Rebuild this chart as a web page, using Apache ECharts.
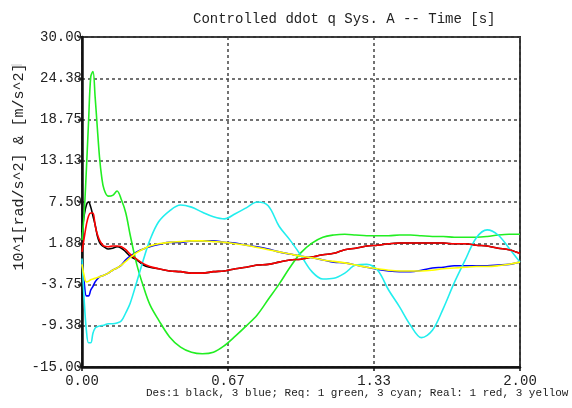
<!DOCTYPE html>
<html><head><meta charset="utf-8">
<script src="https://cdn.jsdelivr.net/npm/echarts@6/dist/echarts.min.js"></script>
<style>html,body{margin:0;padding:0;background:#fff}#c{width:572px;height:408px}</style>
</head><body><div id="c"></div>
<script>
// time [s]
const time = [0,0.01,0.02,0.03,0.04,0.05,0.06,0.07,0.08,0.09,0.10,0.12,0.14,0.16,0.18,0.20,0.22,0.25,0.28,0.31,0.35,0.40,0.45,0.50,0.55,0.60,0.65,0.70,0.75,0.80,0.85,0.90,0.95,1.00,1.05,1.10,1.15,1.20,1.25,1.30,1.35,1.40,1.45,1.50,1.55,1.60,1.65,1.70,1.75,1.80,1.85,1.90,1.95,2.00];
// Des 1 (black)
const des1 = [3.4,5.7,7.1,7.5,6.8,5.6,4.4,2.9,2.0,1.6,1.4,1.1,1.2,1.4,1.2,0.7,0.1,-0.4,-1.1,-1.4,-1.6,-1.9,-2.0,-2.2,-2.2,-2.0,-1.9,-1.6,-1.4,-1.1,-1.0,-0.7,-0.4,-0.3,0.0,0.3,0.5,1.0,1.2,1.5,1.6,1.8,1.9,1.9,1.9,1.9,1.9,1.8,1.8,1.6,1.5,1.2,1.0,0.5];
// Des 3 (blue)
const des3 = [-0.7,-3.5,-5.3,-5.3,-4.5,-4.0,-3.4,-3.0,-2.7,-2.6,-2.5,-2.2,-1.8,-1.5,-1.1,-0.4,0.1,0.7,1.1,1.4,1.7,2.0,2.0,2.2,2.2,2.2,2.0,1.9,1.6,1.4,1.1,0.7,0.4,0.1,-0.1,-0.4,-0.7,-0.8,-1.1,-1.4,-1.7,-1.9,-2.0,-2.0,-1.8,-1.5,-1.4,-1.2,-1.2,-1.2,-1.2,-1.1,-1.0,-0.7];
// Req 1 (green)
const req1 = [2.3,6.0,11.9,18.5,24.6,25.3,21.8,17.6,13.6,10.9,9.3,8.3,8.4,9.0,7.8,6.0,3.0,-1.0,-4.0,-6.5,-8.6,-10.9,-12.3,-13.0,-13.2,-13.0,-12.1,-10.8,-9.4,-7.9,-5.8,-3.7,-1.4,0.6,1.9,2.7,3.0,3.1,3.0,2.9,2.9,2.9,3.0,3.0,2.9,2.8,2.8,2.7,2.7,2.7,2.8,3.0,3.1,3.1];
// Req 3 (cyan)
const req3 = [-0.2,-5.9,-10.0,-11.7,-11.7,-10.4,-9.7,-9.5,-9.4,-9.35,-9.3,-9.1,-9.1,-9.0,-8.7,-7.6,-6.3,-3.4,-0.4,2.3,4.8,6.3,7.1,6.8,6.1,5.5,5.2,5.9,6.7,7.5,7.0,4.2,2.3,0.2,-2.0,-3.0,-2.9,-2.2,-1.1,-1.0,-1.8,-4.5,-6.8,-9.3,-11.0,-10.0,-7.0,-3.5,-0.4,2.6,3.7,3.0,1.2,-0.7];
// Real 1 (red)
const real1 = [0.7,2.6,4.4,5.6,6.0,6.0,4.3,3.1,2.3,1.8,1.5,1.4,1.5,1.5,1.4,1.0,0.4,-0.3,-0.9,-1.3,-1.6,-1.9,-2.0,-2.2,-2.2,-2.0,-1.9,-1.6,-1.4,-1.1,-1.0,-0.7,-0.4,-0.3,0.0,0.3,0.5,1.0,1.2,1.5,1.6,1.8,1.9,1.9,1.9,1.9,1.9,1.8,1.8,1.6,1.5,1.2,1.0,0.5];
// Real 3 (yellow)
const real3 = [-1.0,-2.6,-3.4,-3.3,-3.1,-3.0,-2.9,-2.8,-2.7,-2.6,-2.5,-2.2,-1.8,-1.5,-1.1,-0.6,-0.1,0.6,1.1,1.5,1.8,2.0,2.1,2.2,2.2,2.1,2.0,1.8,1.6,1.3,1.0,0.7,0.4,0.1,-0.1,-0.4,-0.6,-0.8,-1.1,-1.4,-1.6,-1.8,-1.9,-1.9,-1.9,-1.8,-1.6,-1.5,-1.4,-1.3,-1.3,-1.2,-1.0,-0.7];

const titleText = 'Controlled ddot q Sys. A -- Time [s]';
const yName = '10^1[rad/s^2] & [m/s^2]';
const noteText = 'Des:1 black, 3 blue; Req: 1 green, 3 cyan; Real: 1 red, 3 yellow';
const yMin = -15, yMax = 30, yStep = 5.625;
const xMin = 0, xMax = 2, xStep = 2/3;

const FONT = 'Liberation Mono';
function pairs(v){ return time.map((t,i)=>[t,v[i]]); }
function line(name, v, color){
  return {name, type:'line', data:pairs(v), smooth:0.35, showSymbol:false,
    lineStyle:{color, width:1.6}, itemStyle:{color}, z:3};
}
const gridLine = {show:true, lineStyle:{color:'#444', width:1.5, type:[3,3]}};

const chart = echarts.init(document.getElementById('c'), null, {renderer:'canvas'});
chart.setOption({
  animation:false,
  backgroundColor:'#fff',
  grid:{left:82, right:52, top:37, bottom:41, show:true, borderColor:'#333', borderWidth:2, backgroundColor:'transparent'},
  xAxis:{type:'value', min:xMin, max:xMax, interval:xStep,
    axisLine:{show:true, onZero:false, lineStyle:{color:'#111', width:2.5}},
    axisTick:{show:true, length:4, lineStyle:{color:'#111', width:1.5}},
    splitLine:gridLine,
    axisLabel:{fontFamily:FONT, fontSize:14, color:'#222', margin:7,
      formatter:v=>(Math.round(v*1000)/1000).toFixed(2)}},
  yAxis:{type:'value', min:yMin, max:yMax, interval:yStep,
    axisLine:{show:true, onZero:false, lineStyle:{color:'#111', width:2.5}},
    axisTick:{show:true, length:4, lineStyle:{color:'#111', width:1.5}},
    splitLine:gridLine,
    axisLabel:{fontFamily:FONT, fontSize:14, color:'#222', margin:0,
      formatter:v=>(Math.round(v*1000)/1000).toFixed(2)}},
  series:[
    line('Des 1', des1, '#000000'),
    line('Des 3', des3, '#0000ff'),
    line('Req 1', req1, '#22ee22'),
    line('Req 3', req3, '#22eeee'),
    line('Real 1', real1, '#ff0000'),
    line('Real 3', real3, '#ffff00')
  ],
  graphic:[
    {type:'text', left:193, top:12, style:{text:titleText, font:'14px "Liberation Mono"', fill:'#222'}},
    {type:'text', x:19, y:167, rotation:Math.PI/2,
      style:{text:yName, font:'15px "Liberation Mono"', fill:'#222', align:'center', verticalAlign:'middle'}},
    {type:'text', left:146, top:388, style:{text:noteText, font:'11px "Liberation Mono"', fill:'#222'}},
    {type:'line', shape:{x1:11, y1:65, x2:22, y2:65}, style:{stroke:'#ccc', lineWidth:1}}
  ]
});
</script></body></html>
